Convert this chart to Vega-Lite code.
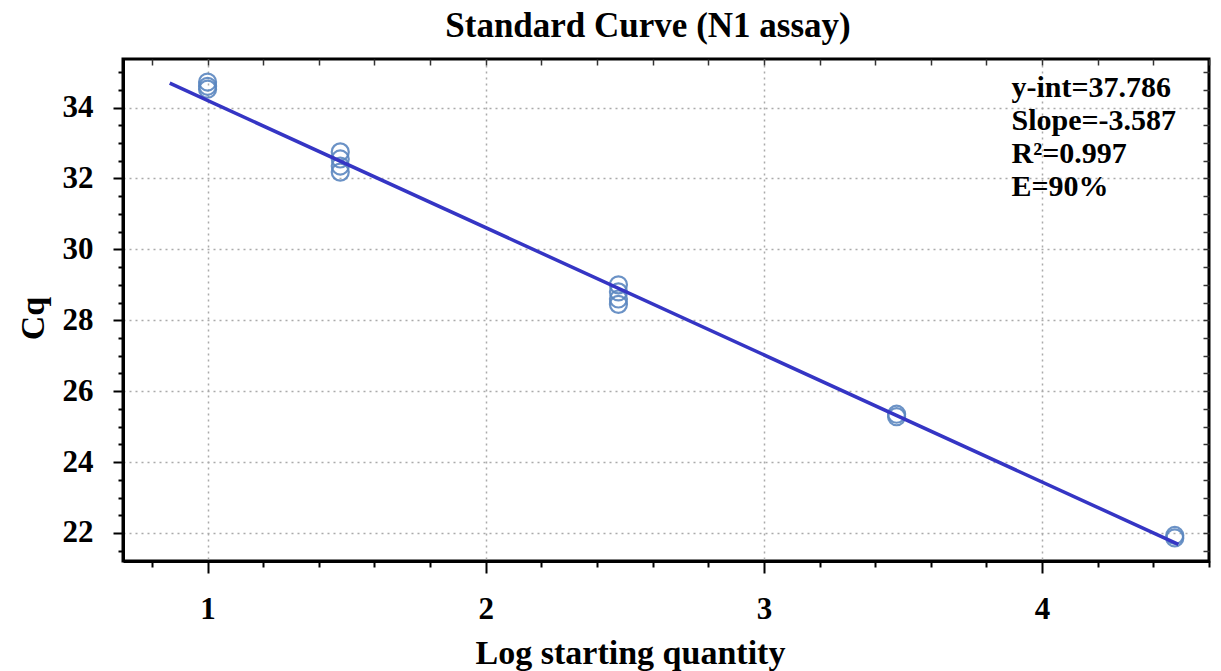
{
  "$schema": "https://vega.github.io/schema/vega-lite/v6.json",
  "width": 1086,
  "height": 502,
  "autosize": {"type": "none"},
  "padding": {"left": 123, "top": 59, "right": 12, "bottom": 110},
  "background": "white",
  "title": {
    "text": "Standard Curve (N1 assay)",
    "font": "Liberation Serif",
    "fontSize": 35,
    "fontWeight": "bold",
    "color": "black",
    "baseline": "alphabetic",
    "offset": -16,
    "frame": "group",
    "anchor": "middle",
    "dx": -18
  },
  "config": {
    "view": {"stroke": "black", "strokeWidth": 3}
  },
  "datasets": {
    "points": [
      {"logq": 1.0, "cq": 34.72},
      {"logq": 1.0, "cq": 34.6},
      {"logq": 1.0, "cq": 34.52},
      {"logq": 1.477, "cq": 32.75},
      {"logq": 1.477, "cq": 32.55},
      {"logq": 1.477, "cq": 32.35},
      {"logq": 1.477, "cq": 32.18},
      {"logq": 2.477, "cq": 29.0},
      {"logq": 2.477, "cq": 28.8},
      {"logq": 2.477, "cq": 28.6},
      {"logq": 2.477, "cq": 28.45},
      {"logq": 3.477, "cq": 25.35},
      {"logq": 3.477, "cq": 25.28},
      {"logq": 4.477, "cq": 21.93},
      {"logq": 4.477, "cq": 21.86}
    ],
    "fit": [
      {"logq": 0.864, "cq": 34.687},
      {"logq": 4.49, "cq": 21.68}
    ]
  },
  "layer": [
    {
      "data": {"name": "points"},
      "mark": {"type": "point", "shape": "circle", "filled": false, "size": 290, "strokeWidth": 2.2, "color": "#5b87c0", "opacity": 0.9},
      "encoding": {
        "x": {
          "field": "logq",
          "type": "quantitative",
          "scale": {"domain": [0.696, 4.6], "nice": false, "zero": false},
          "axis": {
            "orient": "bottom",
            "values": [0.8, 1, 1.2, 1.4, 1.6, 1.8, 2, 2.2, 2.4, 2.6, 2.8, 3, 3.2, 3.4, 3.6, 3.8, 4, 4.2, 4.4, 4.6],
            "labelExpr": "abs(datum.value - round(datum.value)) < 0.001 ? format(datum.value, 'd') : ''",
            "labelFont": "Liberation Serif",
            "labelFontSize": 31,
            "labelFontWeight": "bold",
            "labelColor": "black",
            "labelBaseline": "alphabetic",
            "labelPadding": 45,
            "labelFlush": false,
            "labelOverlap": false,
            "tickSize": {"condition": {"test": "abs(datum.value - round(datum.value)) < 0.001", "value": 12}, "value": 6},
            "tickColor": "black",
            "tickWidth": 2,
            "domainColor": "black",
            "domainWidth": 3,
            "grid": true,
            "gridColor": "#aaaaaa",
            "gridDash": [2, 4],
            "gridWidth": 1.5,
            "gridOpacity": {"condition": {"test": "abs(datum.value - round(datum.value)) < 0.001", "value": 1}, "value": 0},
            "title": "Log starting quantity",
            "titleFont": "Liberation Serif",
            "titleFontSize": 34,
            "titleFontWeight": "bold",
            "titleColor": "black",
            "titleBaseline": "alphabetic",
            "titleAlign": "center",
            "titleX": 507,
            "titleY": 102
          }
        },
        "y": {
          "field": "cq",
          "type": "quantitative",
          "scale": {"domain": [21.21, 35.37], "nice": false, "zero": false},
          "axis": {
            "orient": "left",
            "values": [21.5, 22, 22.5, 23, 23.5, 24, 24.5, 25, 25.5, 26, 26.5, 27, 27.5, 28, 28.5, 29, 29.5, 30, 30.5, 31, 31.5, 32, 32.5, 33, 33.5, 34, 34.5, 35],
            "labelExpr": "abs(datum.value / 2 - round(datum.value / 2)) < 0.001 ? format(datum.value, 'd') : ''",
            "labelFont": "Liberation Serif",
            "labelFontSize": 31,
            "labelFontWeight": "bold",
            "labelColor": "black",
            "labelPadding": 20,
            "labelFlush": false,
            "labelOverlap": false,
            "tickSize": {"condition": {"test": "abs(datum.value / 2 - round(datum.value / 2)) < 0.001", "value": 10}, "value": 5},
            "tickColor": "black",
            "tickWidth": 2,
            "domainColor": "black",
            "domainWidth": 3,
            "grid": true,
            "gridColor": "#aaaaaa",
            "gridDash": [2, 4],
            "gridWidth": 1.5,
            "gridOpacity": {"condition": {"test": "abs(datum.value / 2 - round(datum.value / 2)) < 0.001", "value": 1}, "value": 0},
            "title": "Cq",
            "titleFont": "Liberation Serif",
            "titleFontSize": 34,
            "titleFontWeight": "bold",
            "titleColor": "black",
            "titleBaseline": "alphabetic",
            "titleAlign": "center",
            "titleAngle": -90,
            "titleX": -80,
            "titleY": 259
          }
        }
      }
    },
    {
      "data": {"name": "fit"},
      "mark": {"type": "line", "color": "#3535c4", "strokeWidth": 3.5},
      "encoding": {
        "x": {
          "field": "logq",
          "type": "quantitative",
          "axis": {
            "orient": "top",
            "values": [0.8, 1, 1.2, 1.4, 1.6, 1.8, 2, 2.2, 2.4, 2.6, 2.8, 3, 3.2, 3.4, 3.6, 3.8, 4, 4.2, 4.4, 4.6],
            "labels": false,
            "title": null,
            "grid": false,
            "domain": false,
            "tickSize": -6,
            "tickColor": "#333333",
            "tickWidth": 1.5
          }
        },
        "y": {
          "field": "cq",
          "type": "quantitative",
          "axis": {
            "orient": "right",
            "values": [21.5, 22, 22.5, 23, 23.5, 24, 24.5, 25, 25.5, 26, 26.5, 27, 27.5, 28, 28.5, 29, 29.5, 30, 30.5, 31, 31.5, 32, 32.5, 33, 33.5, 34, 34.5, 35],
            "labels": false,
            "title": null,
            "grid": false,
            "domain": false,
            "tickSize": -6,
            "tickColor": "#333333",
            "tickWidth": 1.5
          }
        }
      }
    },
    {
      "data": {"values": [{}]},
      "mark": {
        "type": "text",
        "font": "Liberation Serif",
        "fontSize": 30,
        "fontWeight": "bold",
        "color": "black",
        "align": "left",
        "baseline": "alphabetic",
        "lineHeight": 33
      },
      "encoding": {
        "x": {"datum": 3.89, "type": "quantitative", "axis": null},
        "y": {"datum": 34.3, "type": "quantitative", "axis": null},
        "text": {"value": ["y-int=37.786", "Slope=-3.587", "R²=0.997", "E=90%"]}
      }
    }
  ],
  "resolve": {"axis": {"x": "independent", "y": "independent"}}
}
